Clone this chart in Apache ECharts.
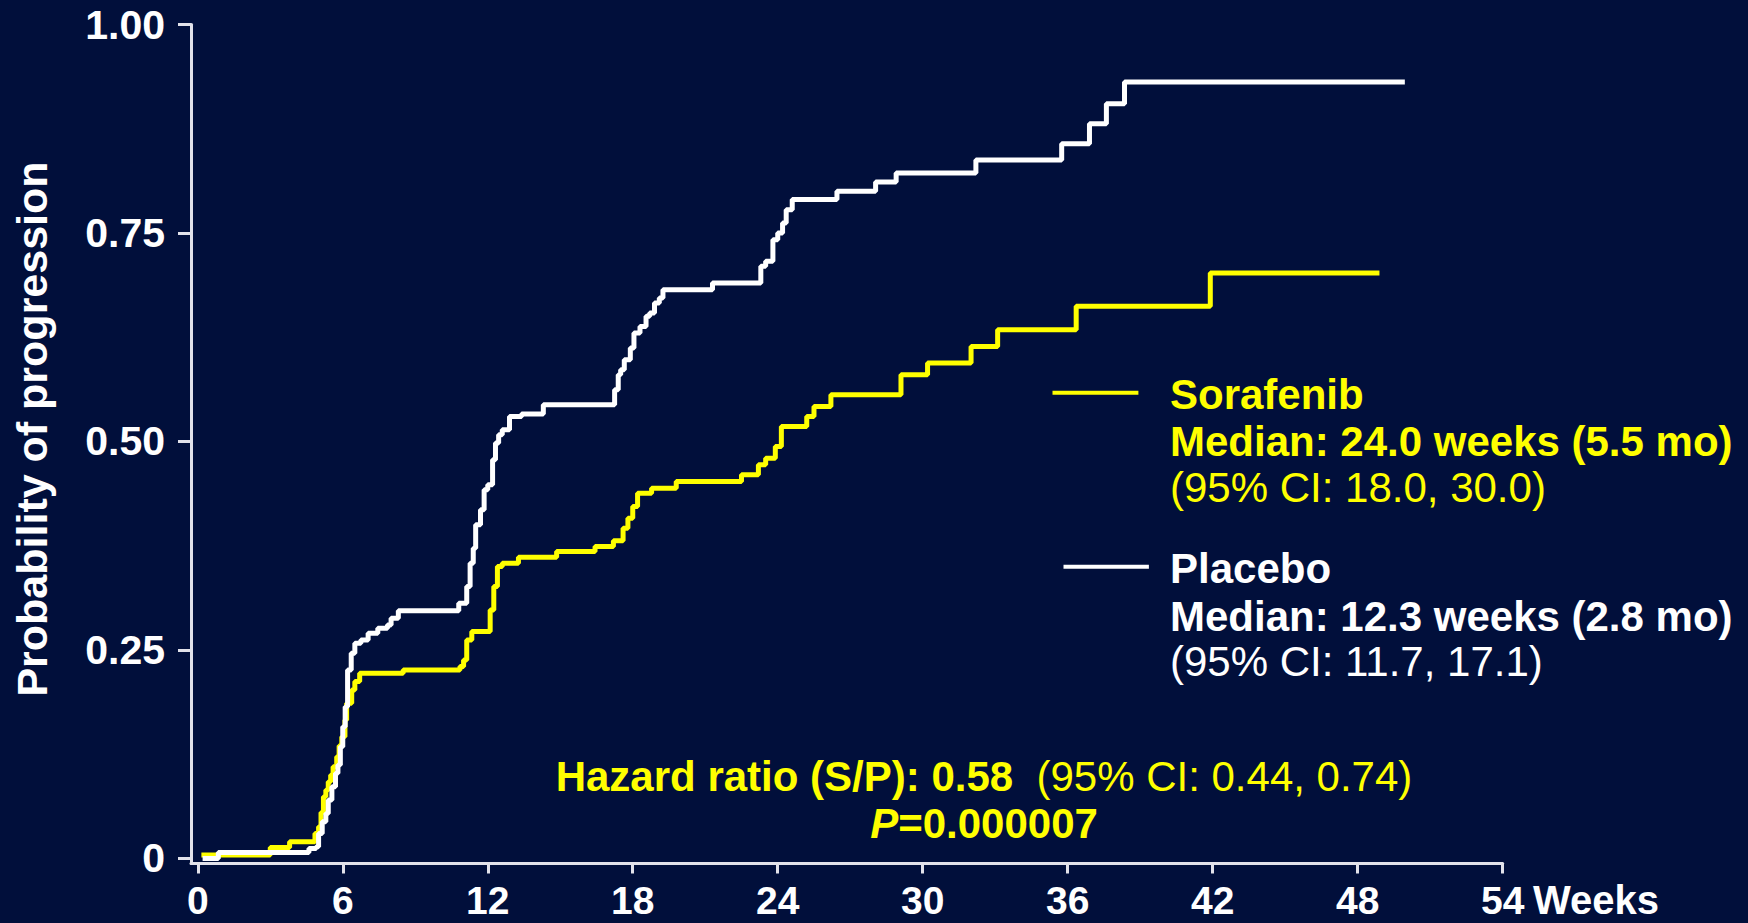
<!DOCTYPE html>
<html>
<head>
<meta charset="utf-8">
<title>Probability of progression</title>
<script src="https://cdn.jsdelivr.net/npm/echarts@6/dist/echarts.min.js"></script>
<style>
  html, body { margin: 0; padding: 0; background: #010f3b; }
  #chart { width: 1748px; height: 923px; }
</style>
</head>
<body>
<div id="chart"></div>
<script>
// Kaplan-Meier step points: week at which each new level starts, and the level
const sorafenibWeeks = [0.15, 3.0, 3.8, 4.85, 5.0, 5.1, 5.2, 5.3, 5.4, 5.5, 5.6, 5.75, 5.85, 5.96, 6.09, 6.16, 6.37, 6.5, 6.7,
  8.5, 10.85, 11.0, 11.13, 11.34, 12.1, 12.25, 12.4, 12.6, 13.27, 14.85, 16.44, 17.2, 17.6, 17.8, 18.0, 18.2, 18.78, 19.8,
  22.5, 23.2, 23.5, 23.9, 24.15, 25.2, 25.5, 26.2, 29.1, 30.2, 32.0, 33.1, 36.35, 41.9, 48.9];
const sorafenibProb = [0.004, 0.013, 0.02, 0.03, 0.038, 0.055, 0.074, 0.082, 0.092, 0.10, 0.11, 0.122, 0.135, 0.146, 0.166, 0.186, 0.202, 0.212, 0.222,
  0.226, 0.23, 0.238, 0.262, 0.272, 0.298, 0.326, 0.35, 0.354, 0.361, 0.368, 0.374, 0.381, 0.396, 0.408, 0.422, 0.438, 0.444, 0.452,
  0.46, 0.472, 0.48, 0.494, 0.518, 0.53, 0.542, 0.556, 0.58, 0.594, 0.614, 0.634, 0.662, 0.702, 0.702];

const placeboWeeks = [0.2, 0.85, 4.6, 4.9, 5.0, 5.15, 5.3, 5.4, 5.55, 5.7, 5.8, 5.9, 6.0, 6.1, 6.2, 6.35, 6.5, 6.75, 7.05, 7.45, 7.85, 8.0, 8.3,
  10.8, 11.13, 11.27, 11.4, 11.5, 11.7, 11.85, 12.0, 12.2, 12.32, 12.45, 12.6, 12.9, 13.4, 14.3,
  17.25, 17.4, 17.5, 17.65, 17.9, 18.05, 18.3, 18.55, 18.7, 18.9, 19.1, 19.25, 21.3, 23.3, 23.5, 23.8, 24.0, 24.2, 24.35, 24.6,
  26.45, 28.05, 28.9, 32.2, 35.75, 36.9, 37.6, 38.35, 49.95];
const placeboProb = [0, 0.007, 0.012, 0.014, 0.03, 0.044, 0.054, 0.07, 0.086, 0.102, 0.112, 0.134, 0.158, 0.182, 0.226, 0.246, 0.258, 0.262, 0.27, 0.276, 0.28, 0.288, 0.297,
  0.306, 0.326, 0.354, 0.372, 0.40, 0.418, 0.442, 0.448, 0.478, 0.498, 0.508, 0.514, 0.53, 0.533, 0.544,
  0.562, 0.58, 0.586, 0.598, 0.612, 0.63, 0.638, 0.65, 0.654, 0.666, 0.672, 0.682, 0.69, 0.71, 0.716, 0.742, 0.75, 0.762, 0.778, 0.79,
  0.80, 0.811, 0.822, 0.8375, 0.857, 0.881, 0.905, 0.931, 0.931];

const weekTicks = [0, 6, 12, 18, 24, 30, 36, 42, 48, 54];
const probTicks = [0, 0.25, 0.5, 0.75, 1];
const probTickLabels = ['0', '0.25', '0.50', '0.75', '1.00'];

const FONT = '"Liberation Sans", Arial, Helvetica, sans-serif';
const YELLOW = '#ffff00';
const WHITE = '#ffffff';
const AXIS = '#e2e2ea';

function pairs(xs, ys) { return xs.map((x, i) => [x, ys[i]]); }

function txt(x, y, text, color, weight, size, align, extra) {
  return Object.assign({
    type: 'text', x: x, y: y, silent: true,
    style: {
      text: text, fill: color, fontFamily: FONT, fontSize: size || 42, fontWeight: weight, lineHeight: (size || 42) - 4,
      align: align || 'left', verticalAlign: 'middle', textAlign: align || 'left', textVerticalAlign: 'middle'
    }
  }, extra || {});
}

const chart = echarts.init(document.getElementById('chart'), null, { renderer: 'svg', width: 1748, height: 923 });

chart.setOption({
  backgroundColor: '#010f3b',
  animation: false,
  grid: { left: 191, right: 245.3, top: 24.5, bottom: 59.5, containLabel: false },
  xAxis: {
    type: 'value', min: -0.28, max: 54,
    axisLine: { show: true, onZero: false, lineStyle: { color: AXIS, width: 3 } },
    axisTick: { show: true, length: 10, customValues: weekTicks, lineStyle: { color: AXIS, width: 3 } },
    axisLabel: { customValues: weekTicks, color: WHITE, fontFamily: FONT, fontSize: 39, fontWeight: 'bold', lineHeight: 33, margin: 20 },
    splitLine: { show: false }
  },
  yAxis: {
    type: 'value', min: -0.0061, max: 1,
    axisLine: { show: true, onZero: false, lineStyle: { color: AXIS, width: 3 } },
    axisTick: { show: true, length: 13, customValues: probTicks, lineStyle: { color: AXIS, width: 3 } },
    axisLabel: {
      customValues: probTicks, color: WHITE, fontFamily: FONT, fontSize: 41, fontWeight: 'bold', margin: 26,
      formatter: v => probTickLabels[probTicks.indexOf(v)]
    },
    splitLine: { show: false }
  },
  series: [
    {
      name: 'Sorafenib', type: 'line', step: 'end', symbol: 'none',
      lineStyle: { color: YELLOW, width: 5 },
      data: pairs(sorafenibWeeks, sorafenibProb)
    },
    {
      name: 'Placebo', type: 'line', step: 'end', symbol: 'none',
      lineStyle: { color: WHITE, width: 5 },
      data: pairs(placeboWeeks, placeboProb)
    }
  ],
  graphic: [
    // vertical axis title
    txt(32, 429, 'Probability of progression', WHITE, 'bold', 43, 'center', { rotation: Math.PI / 2 }),
    // horizontal axis unit
    txt(1533, 900, 'Weeks', WHITE, 'bold', 40, 'left'),
    // key
    { type: 'line', silent: true, shape: { x1: 1052.5, y1: 392.7, x2: 1138.4, y2: 392.7 }, style: { stroke: YELLOW, lineWidth: 4 } },
    txt(1170, 394, 'Sorafenib', YELLOW, 'bold'),
    txt(1170, 441, 'Median: 24.0 weeks (5.5 mo)', YELLOW, 'bold'),
    txt(1170, 487, '(95% CI: 18.0, 30.0)', YELLOW, 'normal'),
    { type: 'line', silent: true, shape: { x1: 1063.5, y1: 566.7, x2: 1148.9, y2: 566.7 }, style: { stroke: WHITE, lineWidth: 4 } },
    txt(1170, 568, 'Placebo', WHITE, 'bold'),
    txt(1170, 616, 'Median: 12.3 weeks (2.8 mo)', WHITE, 'bold'),
    txt(1170, 661, '(95% CI: 11.7, 17.1)', WHITE, 'normal'),
    // hazard ratio statement
    {
      type: 'text', x: 984, y: 776, silent: true,
      style: {
        text: '{b|Hazard ratio (S/P): 0.58}{r|  (95% CI: 0.44, 0.74)}',
        align: 'center', verticalAlign: 'middle', textAlign: 'center', textVerticalAlign: 'middle',
        fill: YELLOW, fontFamily: FONT, fontSize: 42,
        rich: {
          b: { fill: YELLOW, color: YELLOW, fontFamily: FONT, fontSize: 42, fontWeight: 'bold' },
          r: { fill: YELLOW, color: YELLOW, fontFamily: FONT, fontSize: 42, fontWeight: 'normal' }
        }
      }
    },
    {
      type: 'text', x: 984, y: 823, silent: true,
      style: {
        text: '{i|P}{b|=0.000007}',
        align: 'center', verticalAlign: 'middle', textAlign: 'center', textVerticalAlign: 'middle',
        fill: YELLOW, fontFamily: FONT, fontSize: 42,
        rich: {
          i: { fill: YELLOW, color: YELLOW, fontFamily: FONT, fontSize: 42, fontWeight: 'bold', fontStyle: 'italic' },
          b: { fill: YELLOW, color: YELLOW, fontFamily: FONT, fontSize: 42, fontWeight: 'bold' }
        }
      }
    }
  ]
});
</script>
</body>
</html>
